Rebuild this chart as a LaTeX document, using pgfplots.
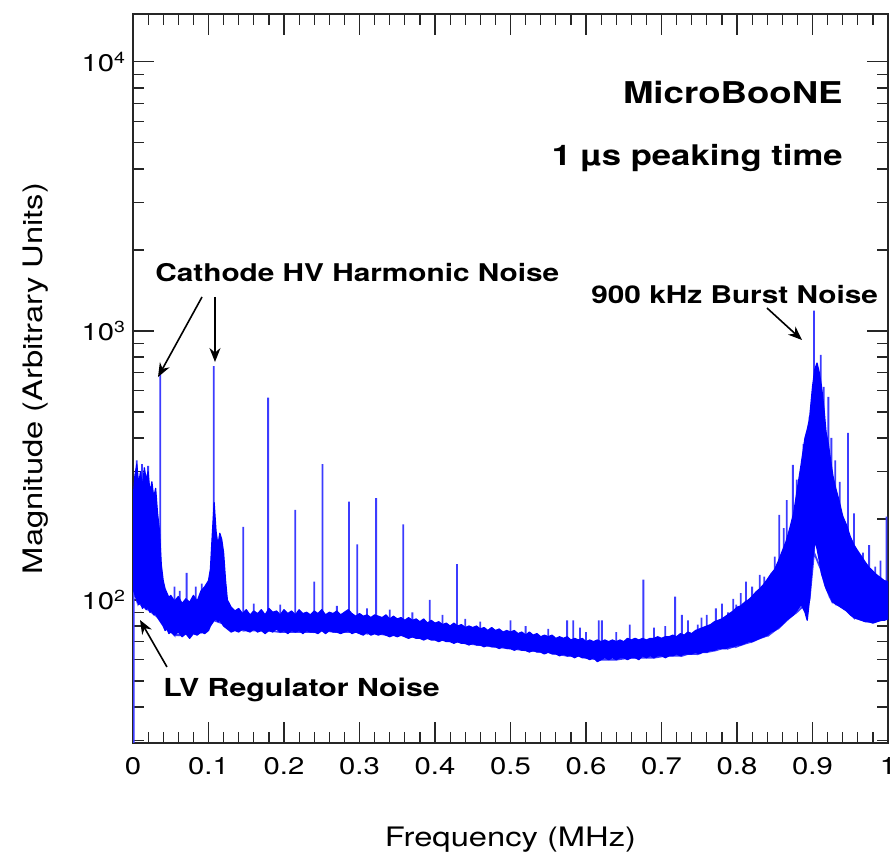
\documentclass[border=0pt]{standalone}
\usepackage{fontspec}
\setmainfont{TeX Gyre Heros}[FakeStretch=1.22]
\usepackage{pgfplots}
\pgfplotsset{compat=1.18}
\usepackage{pgfplotstable}
\usetikzlibrary{arrows.meta,calc}

% noise band: upper envelope (left to right), then lower envelope (right to left)
\pgfplotstableread{
x y
0.000 235
0.0025 290
0.005 320
0.0075 270
0.010 300
0.0125 260
0.015 310
0.0175 280
0.020 300
0.0225 250
0.025 275
0.0275 240
0.030 260
0.0325 210
0.035 182
0.0375 135
0.040 118
0.0425 110
0.045 106
0.0475 102
0.050 104
0.055 99
0.060 103
0.065 97
0.070 101
0.075 98
0.080 104
0.085 99
0.090 108
0.095 112
0.100 118
0.1025 130
0.105 175
0.1075 230
0.110 180
0.1125 160
0.115 177
0.1175 168
0.120 150
0.1225 119
0.125 100
0.130 94
0.135 91
0.140 93
0.145 89
0.150 92
0.155 88
0.160 91
0.165 89
0.170 92
0.175 88
0.180 93
0.185 90
0.190 91
0.195 88
0.200 92
0.205 89
0.210 91
0.215 88
0.220 92
0.225 89
0.230 90
0.235 88
0.240 91
0.245 89
0.250 92
0.255 88
0.260 90
0.265 89
0.270 91
0.275 88
0.280 90
0.285 92
0.290 89
0.295 87
0.300 89
0.305 87
0.310 88
0.315 86
0.320 88
0.325 87
0.330 86
0.335 88
0.340 85
0.345 87
0.350 85
0.355 86
0.360 84
0.365 86
0.370 84
0.375 85
0.380 83
0.385 85
0.390 82
0.395 84
0.400 82
0.405 83
0.410 81
0.415 82
0.420 80
0.425 82
0.430 80
0.435 81
0.440 79
0.445 80
0.450 79
0.455 80
0.460 78
0.465 79
0.470 77
0.475 79
0.480 77
0.485 78
0.490 76
0.495 77
0.500 76
0.505 77
0.510 75
0.515 76
0.520 74
0.525 76
0.530 74
0.535 75
0.540 73
0.545 74
0.550 73
0.555 74
0.560 72
0.565 73
0.570 72
0.575 73
0.580 71
0.585 72
0.590 71
0.595 72
0.600 70
0.605 71
0.610 70
0.615 71
0.620 70
0.625 71
0.630 70
0.635 71
0.640 70
0.645 71
0.650 70
0.655 72
0.660 71
0.665 72
0.670 71
0.675 72
0.680 71
0.685 72
0.690 72
0.695 73
0.700 72
0.705 73
0.710 73
0.715 74
0.720 73
0.725 75
0.730 74
0.735 76
0.740 75
0.745 77
0.750 78
0.755 79
0.760 80
0.765 81
0.770 83
0.775 84
0.780 85
0.785 87
0.790 89
0.795 91
0.800 94
0.805 95
0.810 98
0.815 100
0.820 103
0.825 107
0.830 110
0.835 114
0.840 119
0.845 125
0.850 130
0.855 140
0.860 152
0.865 165
0.870 185
0.875 210
0.880 260
0.885 320
0.890 400
0.893 430
0.896 470
0.900 620
0.903 720
0.906 760
0.909 700
0.912 620
0.915 520
0.918 420
0.921 380
0.924 330
0.927 290
0.930 265
0.935 235
0.940 205
0.945 190
0.950 172
0.955 160
0.960 152
0.965 145
0.970 138
0.975 132
0.980 128
0.985 124
0.990 121
0.995 118
1.000 117
1.000 85
0.995 84
0.990 84
0.985 83
0.980 82
0.975 83
0.970 83
0.965 84
0.960 85
0.955 86
0.950 88
0.945 91
0.940 93
0.935 95
0.930 97
0.927 98
0.924 102
0.921 106
0.918 110
0.915 118
0.912 125
0.909 140
0.906 155
0.903 165
0.900 140
0.896 100
0.893 84
0.890 90
0.885 96
0.880 92
0.875 88
0.870 86
0.865 84
0.860 81
0.855 79
0.850 77
0.845 76
0.840 74
0.835 73
0.830 72
0.825 71
0.820 70
0.815 70
0.810 69
0.805 68
0.800 68
0.795 67
0.790 67
0.785 66
0.780 66
0.775 66
0.770 65
0.765 65
0.760 64
0.755 64
0.750 63
0.745 64
0.740 63
0.735 63
0.730 63
0.725 62
0.720 63
0.715 62
0.710 62
0.705 61
0.700 62
0.695 62
0.690 61
0.685 62
0.680 61
0.675 62
0.670 60
0.665 61
0.660 61
0.655 60
0.650 61
0.645 61
0.640 60
0.635 61
0.630 60
0.625 61
0.620 60
0.615 59
0.610 61
0.605 60
0.600 61
0.595 61
0.590 62
0.585 61
0.580 62
0.575 62
0.570 63
0.565 62
0.560 63
0.555 63
0.550 64
0.545 63
0.540 64
0.535 64
0.530 65
0.525 64
0.520 65
0.515 65
0.510 66
0.505 65
0.500 66
0.495 66
0.490 67
0.485 66
0.480 67
0.475 67
0.470 68
0.465 67
0.460 68
0.455 68
0.450 69
0.445 68
0.440 69
0.435 69
0.430 70
0.425 69
0.420 70
0.415 70
0.410 71
0.405 70
0.400 71
0.395 71
0.390 72
0.385 71
0.380 72
0.375 72
0.370 73
0.365 72
0.360 73
0.355 74
0.350 73
0.345 74
0.340 73
0.335 74
0.330 75
0.325 74
0.320 75
0.315 74
0.310 76
0.305 74
0.300 75
0.295 76
0.290 75
0.285 77
0.280 76
0.275 75
0.270 76
0.265 76
0.260 77
0.255 75
0.250 77
0.245 75
0.240 76
0.235 76
0.230 77
0.225 75
0.220 77
0.215 76
0.210 77
0.205 75
0.200 77
0.195 76
0.190 78
0.185 76
0.180 77
0.175 75
0.170 77
0.165 76
0.160 78
0.155 76
0.150 77
0.145 78
0.140 76
0.135 77
0.130 76
0.125 78
0.1225 79
0.120 80
0.1175 82
0.115 84
0.1125 83
0.110 85
0.1075 84
0.105 82
0.1025 80
0.100 77
0.095 75
0.090 76
0.085 74
0.080 75
0.075 72
0.070 75
0.065 73
0.060 76
0.055 74
0.050 76
0.0475 75
0.045 78
0.0425 77
0.040 80
0.0375 82
0.035 84
0.0325 86
0.030 89
0.0275 88
0.025 91
0.0225 90
0.020 94
0.0175 92
0.015 95
0.0125 93
0.010 98
0.0075 96
0.005 100
0.0025 105
0.000 110
}\band

% narrow lines (harmonics and noise spikes): base, peak, base
\pgfplotstableread{
x y
0.001 110
0.001 20
0.001 110
0.005 100
0.005 330
0.005 100
0.012 95
0.012 320
0.012 95
0.020 92
0.020 315
0.020 92
0.036 85
0.036 690
0.036 85
0.055 74
0.055 112
0.055 74
0.062 74
0.062 108
0.062 74
0.071 75
0.071 126
0.071 75
0.083 75
0.083 112
0.083 75
0.091 76
0.091 115
0.091 76
0.107 84
0.107 740
0.107 84
0.146 77
0.146 187
0.146 77
0.160 77
0.160 97
0.160 77
0.179 77
0.179 565
0.179 77
0.195 76
0.195 96
0.195 76
0.215 76
0.215 216
0.215 76
0.240 76
0.240 117
0.240 76
0.251 77
0.251 320
0.251 77
0.270 76
0.270 95
0.270 76
0.286 76
0.286 232
0.286 76
0.297 76
0.297 161
0.297 76
0.310 75
0.310 93
0.310 75
0.322 75
0.322 239
0.322 75
0.340 74
0.340 92
0.340 74
0.358 74
0.358 191
0.358 74
0.370 73
0.370 90
0.370 73
0.393 72
0.393 100
0.393 72
0.410 71
0.410 88
0.410 71
0.429 70
0.429 136
0.429 70
0.440 69
0.440 85
0.440 69
0.460 68
0.460 83
0.460 68
0.500 66
0.500 84
0.500 66
0.520 65
0.520 80
0.520 65
0.550 64
0.550 78
0.550 64
0.575 62
0.575 84
0.575 62
0.583 62
0.583 84
0.583 62
0.592 62
0.592 79
0.592 62
0.600 61
0.600 76
0.600 61
0.617 60
0.617 84
0.617 60
0.621 60
0.621 84
0.621 60
0.640 60
0.640 76
0.640 60
0.658 61
0.658 81
0.658 61
0.676 61
0.676 119
0.676 61
0.690 61
0.690 79
0.690 61
0.705 62
0.705 80
0.705 62
0.718 62
0.718 103
0.718 62
0.727 62
0.727 88
0.727 62
0.735 63
0.735 84
0.735 63
0.748 63
0.748 81
0.748 63
0.753 64
0.753 86
0.753 64
0.760 64
0.760 88
0.760 64
0.772 65
0.772 93
0.772 65
0.780 66
0.780 97
0.780 66
0.788 66
0.788 90
0.788 66
0.795 67
0.795 101
0.795 67
0.799 67
0.799 96
0.799 67
0.805 68
0.805 106
0.805 68
0.812 69
0.812 117
0.812 69
0.820 70
0.820 112
0.820 70
0.830 72
0.830 124
0.830 72
0.836 73
0.836 122
0.836 73
0.842 74
0.842 119
0.842 74
0.850 77
0.850 145
0.850 77
0.856 79
0.856 207
0.856 79
0.862 82
0.862 185
0.862 82
0.866 84
0.866 235
0.866 84
0.874 88
0.874 318
0.874 88
0.879 90
0.879 280
0.879 90
0.888 95
0.888 380
0.888 95
0.896 100
0.896 480
0.896 100
0.902 150
0.902 1190
0.902 150
0.911 130
0.911 815
0.911 130
0.915 118
0.915 620
0.915 118
0.921 106
0.921 569
0.921 106
0.925 100
0.925 400
0.925 100
0.930 97
0.930 330
0.930 97
0.936 95
0.936 275
0.936 95
0.947 91
0.947 418
0.947 91
0.955 86
0.955 210
0.955 86
0.967 84
0.967 150
0.967 84
0.975 83
0.975 160
0.975 83
0.983 83
0.983 133
0.983 83
0.990 84
0.990 140
0.990 84
0.998 85
0.998 204
0.998 85
}\spikes

\begin{document}
\begin{tikzpicture}
\begin{axis}[name=ax,
  scale only axis, width=377.5pt, height=364.5pt,
  xmin=0, xmax=1, ymode=log, ymin=29.4, ymax=15070,
  xtick={0,0.1,0.2,0.3,0.4,0.5,0.6,0.7,0.8,0.9,1},
  xticklabels={0,0.1,0.2,0.3,0.4,0.5,0.6,0.7,0.8,0.9,1},
  minor x tick num=4,
  ytick={100,1000,10000},
  yticklabels={10\textsuperscript{2},10\textsuperscript{3},10\textsuperscript{4}},
  minor ytick={30,40,50,60,70,80,90,200,300,400,500,600,700,800,900,2000,3000,4000,5000,6000,7000,8000,9000},
  tick pos=both, tick align=inside,
  major tick length=10.5pt, minor tick length=5.5pt,
  tick style={line width=0.6pt, black!85},
  axis line style={line width=0.8pt, black!85},
  ticklabel style={font=\fontsize{12}{14}\selectfont},
  xticklabel shift=3.5pt,
  xlabel={Frequency (MHz)},
  ylabel={Magnitude (Arbitrary Units)},
  label style={font=\fontsize{13.4}{16}\selectfont},
  x label style={at={(axis description cs:0.5,-0.133)}, anchor=center},
  y label style={at={(axis description cs:-0.1285,0.5)}, anchor=center},
]
\addplot[color={rgb,255:red,60;green,60;blue,255}, line width=0.9pt] table[x=x, y=y]{\spikes};
\addplot[draw=blue, fill=blue, line width=0.6pt, line join=round] table[x=x, y=y]{\band} -- cycle;

\node[anchor=east, inner sep=0pt, font=\bfseries\fontsize{15}{17}\selectfont] at (rel axis cs:0.9404,0.893) {MicroBooNE};
\node[anchor=east, inner sep=0pt, font=\bfseries\fontsize{14.2}{16}\selectfont] at (rel axis cs:0.9404,0.8025) {1 µs peaking time};
\node[anchor=west, inner sep=0pt, font=\bfseries\fontsize{12.2}{14}\selectfont] at (rel axis cs:0.0291,0.6447) {Cathode HV Harmonic Noise};
\node[anchor=west, inner sep=0pt, font=\bfseries\fontsize{12.2}{14}\selectfont] at (rel axis cs:0.6066,0.6145) {900 kHz Burst Noise};
\node[anchor=west, inner sep=0pt, font=\bfseries\fontsize{12.4}{14}\selectfont] at (rel axis cs:0.0397,0.0727) {LV Regulator Noise};

\draw[-{Stealth[length=7pt,width=5.5pt]}, line width=0.8pt] (rel axis cs:0.0914,0.6118) -- (rel axis cs:0.0331,0.502);
\draw[-{Stealth[length=7pt,width=5.5pt]}, line width=0.8pt] (rel axis cs:0.1086,0.6118) -- (rel axis cs:0.1086,0.5226);
\draw[-{Stealth[length=7pt,width=5.5pt]}, line width=0.8pt] (rel axis cs:0.8397,0.5967) -- (rel axis cs:0.8861,0.5528);
\draw[-{Stealth[length=7pt,width=5.5pt]}, line width=0.8pt] (rel axis cs:0.045,0.1043) -- (rel axis cs:0.00927,0.1687);
\end{axis}
\pgfresetboundingbox
\path ($(ax.south west)+(-66.5pt,-55.5pt)$) rectangle ($(ax.south west)+(379.5pt,371.5pt)$);
\end{tikzpicture}
\end{document}
